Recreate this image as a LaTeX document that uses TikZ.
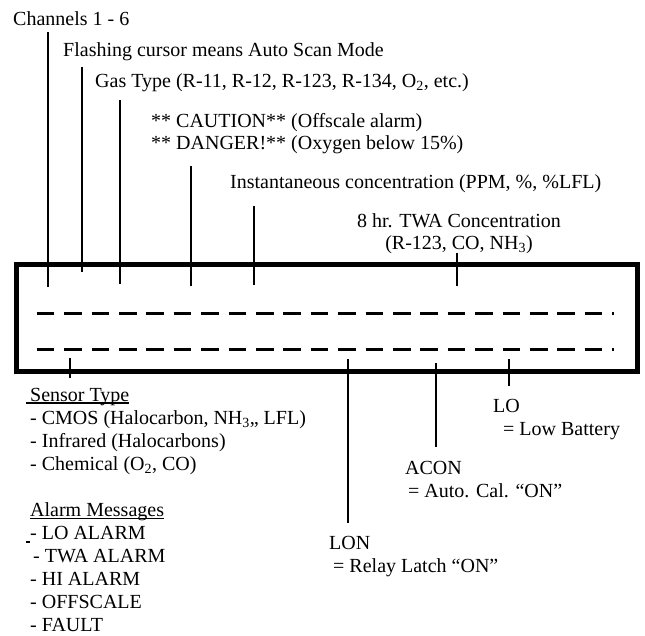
\documentclass[tikz,border=0pt]{standalone}
\usepackage{fontspec}
\setmainfont{Liberation Serif}
\usetikzlibrary{positioning}
% underlined heading, rule may start a little left of the text
\newcommand{\undl}[2][0pt]{\setbox0\hbox{#2}\rlap{\hspace*{-#1}\rule[-2.5pt]{\dimexpr\wd0+#1\relax}{1.3pt}}\box0}

\begin{document}
\begin{tikzpicture}[x=1pt, y=-1pt,
    lbl/.style={inner sep=0pt, anchor=base west, align=left, font=\fontsize{20}{23}\selectfont},
    pin/.style={line width=2pt},
    frame/.style={draw, line width=5pt, inner sep=0pt, minimum width=620.5pt, minimum height=107pt},
    digits/.style={line width=3pt, dash pattern=on 17.7pt off 9.7pt}
]
\useasboundingbox (0,0) rectangle (645,635);

% Display window
\node[frame] (display) at (326.75,318) {};
\coordinate (row1-l) at (36.7,313);
\coordinate (row1-r) at (613.5,313);
\coordinate (row2-l) at (36.7,349);
\coordinate (row2-r) at (613.5,349);
\draw[digits] (row1-l) -- (row1-r);
\draw[digits] (row2-l) -- (row2-r);

% Upper labels (multi-line nodes sit on their last baseline)
\node[lbl] (chan) at (13,25) {Channels 1 - 6};
\node[lbl] (flash) at (63,56) {Flashing cursor means Auto Scan Mode};
\node[lbl] (gas) at (95,87) {Gas Type (R-11, R-12, R-123, R-134, O\textsubscript{2}, etc.)};
\node[lbl, font=\fontsize{20}{21.5}\selectfont] (warn) at (151,149) {** CAUTION** (Offscale alarm)\\** DANGER!** (Oxygen below 15\%)};
\node[lbl] (inst) at (230,188.5) {Instantaneous concentration (PPM, \%, \%LFL)};
\node[lbl, anchor=base, align=center, font=\fontsize{20}{22}\selectfont] (twa) at (459,249) {8 hr. TWA Concentration\\(R-123, CO, NH\textsubscript{3})};

% Upper pins
\coordinate (chan-top) at (48,32);   \coordinate (chan-pin) at (48,287);
\coordinate (flash-top) at (82,67);  \coordinate (flash-pin) at (82,272);
\coordinate (gas-top) at (120,100);  \coordinate (gas-pin) at (120,284);
\coordinate (warn-top) at (191,166); \coordinate (warn-pin) at (191,286);
\coordinate (inst-top) at (254,206); \coordinate (inst-pin) at (254,285);
\coordinate (twa-top) at (457,253);  \coordinate (twa-pin) at (457,286);
\draw[pin] (chan-top) -- (chan-pin);
\draw[pin] (flash-top) -- (flash-pin);
\draw[pin] (gas-top) -- (gas-pin);
\draw[pin] (warn-top) -- (warn-pin);
\draw[pin] (inst-top) -- (inst-pin);
\draw[pin] (twa-top) -- (twa-pin);

% Lower labels
\node[lbl] (sensor) at (30,470) {\undl[4pt]{Sensor Type}\\- CMOS (Halocarbon, NH\textsubscript{3},, LFL)\\- Infrared (Halocarbons)\\- Chemical (O\textsubscript{2}, CO)};
\node[lbl] (alarm) at (30,631.5) {\undl{Alarm Messages}\\\llap{\rule[-3pt]{4pt}{1.3pt}}- LO ALARM\\\hspace*{3pt}- TWA ALARM\\- HI ALARM\\- OFFSCALE\\- FAULT};
\node[lbl] (lon) at (329,572) {LON\\\hspace*{4pt}= Relay Latch “ON”};
\node[lbl] (acon) at (405,497) {ACON\\\hspace*{3pt}= Auto. Cal. “ON”};
\node[lbl] (lo) at (493,435) {LO\\\hspace*{10pt}= Low Battery};

% Lower pins
\coordinate (sensor-pin) at (70,358); \coordinate (sensor-end) at (70,378);
\coordinate (lon-pin) at (348,359);   \coordinate (lon-end) at (348,523);
\coordinate (acon-pin) at (436,363);  \coordinate (acon-end) at (436,447);
\coordinate (lo-pin) at (509,359);    \coordinate (lo-end) at (509,386);
\draw[pin] (sensor-pin) -- (sensor-end);
\draw[pin] (lon-pin) -- (lon-end);
\draw[pin] (acon-pin) -- (acon-end);
\draw[pin] (lo-pin) -- (lo-end);
\end{tikzpicture}
\end{document}
